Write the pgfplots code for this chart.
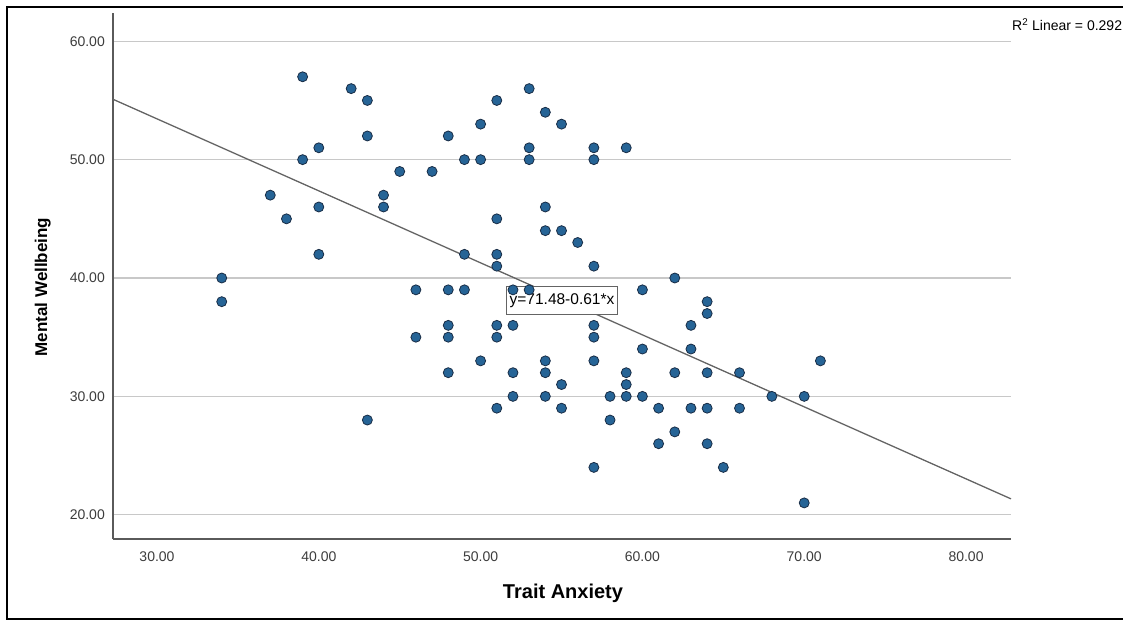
\documentclass[border=0pt]{standalone}
\usepackage{pgfplots}
\pgfplotsset{compat=1.18}
\usepackage{fontspec}
\setmainfont{Liberation Sans}
\definecolor{dotfill}{RGB}{38,100,150}
\definecolor{dotedge}{RGB}{25,45,70}
\definecolor{gridc}{RGB}{200,200,200}
\definecolor{axisc}{RGB}{90,90,90}
\definecolor{tickc}{RGB}{60,60,60}
\definecolor{fitc}{RGB}{100,100,100}
\begin{document}
\begin{tikzpicture}[x=1pt,y=1pt]
\useasboundingbox (0,0) rectangle (1123,621);
\begin{axis}[
  at={(113pt,82pt)}, anchor=south west,
  scale only axis, width=898pt, height=526pt,
  xmin=27.28, xmax=82.78, ymin=17.95, ymax=62.39,
  axis x line*=bottom, axis y line*=left,
  axis line style={color=axisc, line width=1.4pt, -},
  xtick={30,40,...,80}, ytick={20,30,...,60},
  major tick length=0pt,
  ymajorgrids, major grid style={color=gridc, line width=1.3pt},
  /pgf/number format/.cd, fixed, fixed zerofill, precision=2, assume math mode=true,
  /pgfplots/.cd,
  tick label style={font=\fontsize{14}{16}\selectfont, color=tickc},
  xticklabel style={anchor=north, inner sep=0pt, yshift=-13pt},
  yticklabel style={anchor=east, inner sep=0pt, xshift=-8pt},
  clip=false,
]
\addplot[only marks, mark=*, mark size=5pt, mark options={fill=dotfill, draw=dotedge, line width=0.8pt}] table {
x y
34 40
34 38
37 47
38 45
39 57
39 50
40 51
40 46
40 42
42 56
43 55
43 52
43 28
44 47
44 46
45 49
47 49
46 39
46 35
48 52
48 39
48 36
48 35
48 32
49 50
49 42
49 39
50 53
50 50
50 33
51 55
51 45
51 42
51 41
51 36
51 35
51 29
52 39
52 36
52 32
52 30
53 56
53 51
53 50
53 39
54 54
54 46
54 44
54 33
54 32
54 30
55 53
55 44
55 31
55 29
56 43
57 51
57 50
57 41
57 36
57 35
57 33
57 24
58 30
58 28
59 51
59 32
59 31
59 30
60 39
60 34
60 30
61 29
61 26
62 40
62 32
62 27
63 36
63 34
63 29
64 38
64 37
64 32
64 29
64 26
65 24
66 32
66 29
68 30
70 30
70 21
71 33
};
\addplot[color=fitc, line width=1.3pt] coordinates {(27.28,55.1) (82.78,21.34)};
\node[draw=fitc, line width=1pt, fill=white, inner xsep=3pt, inner ysep=7pt, font=\fontsize{15.5}{17}\selectfont] at (axis cs:55.03,38.07) {y=71.48-0.61*x};
\end{axis}
\node[anchor=west, inner sep=0pt, font=\fontsize{14}{16}\selectfont] at (1012,596) {R\textsuperscript{2} Linear = 0.292};
\node[rotate=90, inner sep=0pt, font=\fontsize{17}{19}\selectfont\bfseries] at (42.7,334) {Mental Wellbeing};
\node[inner sep=0pt, font=\fontsize{20}{22}\selectfont\bfseries] at (563,28) {Trait Anxiety};
\draw[line width=2pt, black] (1135,614) -- (7,614) -- (7,2) -- (1135,2);
\end{tikzpicture}
\end{document}
